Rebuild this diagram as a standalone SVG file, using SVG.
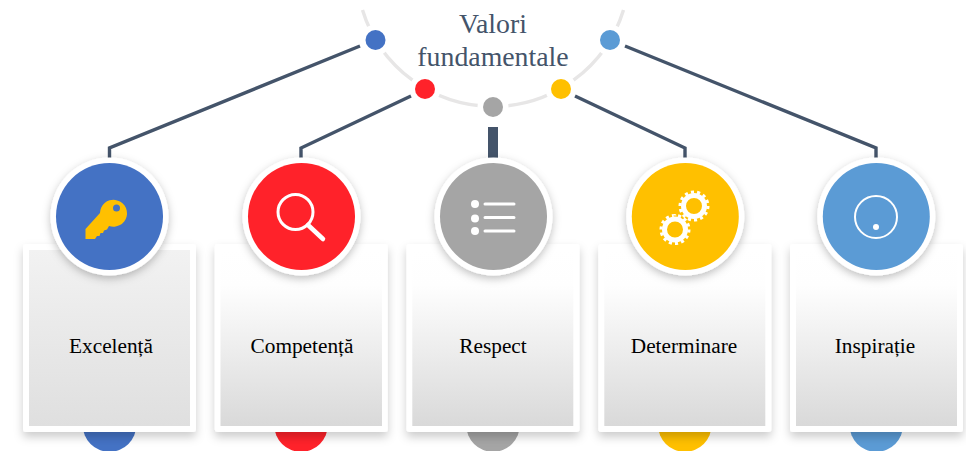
<svg xmlns="http://www.w3.org/2000/svg" width="966" height="451" viewBox="0 0 966 451">
<style>
.label{font-family:"Liberation Serif","Times New Roman",serif;font-size:21.3px;fill:#000;text-anchor:middle}
.title{font-family:"Liberation Serif","Times New Roman",serif;font-size:27.8px;fill:#44546a;text-anchor:middle}
.conn{fill:none;stroke:#44546a;stroke-width:3.4}
.arc{fill:none;stroke:#e7e6e6;stroke-width:3.4}
.halo{fill:#fff}
.card{fill:#fff;filter:url(#cs)}
.ring{fill:#fff;filter:url(#rs)}
.ico{fill:none;stroke:#fff}
.w{fill:#fff}
</style>
<defs>
<filter id="cs" x="-20%" y="-10%" width="140%" height="125%"><feDropShadow dx="0" dy="5" stdDeviation="5" flood-color="#000" flood-opacity="0.2"/></filter>
<filter id="rs" x="-20%" y="-20%" width="140%" height="145%"><feDropShadow dx="0" dy="3" stdDeviation="4" flood-color="#000" flood-opacity="0.25"/></filter>
<linearGradient id="g1" x1="0" y1="0" x2="0" y2="1"><stop offset="0" stop-color="#f2f2f2"/><stop offset="1" stop-color="#dfdfdf"/></linearGradient>
<linearGradient id="g2" x1="0" y1="0" x2="0" y2="1"><stop offset="0" stop-color="#ffffff"/><stop offset="0.2" stop-color="#fefefe"/><stop offset="1" stop-color="#d9d9d9"/></linearGradient>
</defs>
<rect width="966" height="451" fill="#fff"/>
<g id="connectors">
<path class="arc" d="M362.500 10 A136.500 136.500 0 0 0 623.500 10"/>
<circle class="halo" cx="375.500" cy="40" r="15.500"/>
<circle class="halo" cx="425" cy="89" r="15.500"/>
<circle class="halo" cx="493" cy="107" r="15.500"/>
<circle class="halo" cx="561" cy="89" r="15.500"/>
<circle class="halo" cx="610" cy="40" r="15.500"/>
<polyline class="conn" points="360,46 109.500,148 109.500,158"/>
<polyline class="conn" points="411,96 301,148 301,158"/>
<rect x="488" y="127" width="10" height="32" fill="#44546a"/>
<polyline class="conn" points="575,96 685,148 685,158"/>
<polyline class="conn" points="625,46 876,148 876,158"/>
</g>
<g id="title">
<circle cx="375.500" cy="40" r="10" fill="#4472c4"/>
<circle cx="425" cy="89" r="10" fill="#ff222a"/>
<circle cx="493" cy="107" r="10" fill="#a5a5a5"/>
<circle cx="561" cy="89" r="10" fill="#ffc000"/>
<circle cx="610" cy="40" r="10" fill="#5b9bd5"/>
<text class="title" x="493" y="33">Valori</text>
<text class="title" x="493" y="66">fundamentale</text>
</g>
<g id="node-excelenta">
<circle cx="109.500" cy="425" r="26.800" fill="#4472c4"/>
<rect class="card" x="23" y="244" width="173" height="188" rx="3"/>
<rect x="29" y="250" width="161" height="176" fill="url(#g1)"/>
<text class="label" x="111" y="353">Excelență</text>
<circle class="ring" cx="109.500" cy="216.500" r="59"/>
<circle cx="109.500" cy="216.500" r="53.500" fill="#4472c4"/>
<path fill="#ffc000" d="M100,213 L85.500,229 V239 H95 L97,236 H99.500 L100.500,233 H103 L104,230.500 L107,229.500 L109,226 A13.500 13.500 0 1 0 100,213 Z"/>
<circle cx="116.500" cy="208" r="3.500" fill="#4472c4"/>
</g>
<g id="node-competenta">
<circle cx="301" cy="425" r="26.800" fill="#ff222a"/>
<rect class="card" x="214.800" y="244" width="173" height="188" rx="3"/>
<rect x="220.500" y="250" width="161.500" height="176" fill="url(#g2)"/>
<text class="label" x="302" y="353">Competență</text>
<circle class="ring" cx="301.500" cy="216.500" r="59"/>
<circle cx="301.500" cy="216.500" r="53.500" fill="#ff222a"/>
<circle class="ico" cx="295.500" cy="212" r="17.500" stroke-width="3"/>
<path class="ico" d="M308,225 L323,239" stroke-width="4.500" stroke-linecap="round"/>
</g>
<g id="node-respect">
<circle cx="493" cy="425" r="26.800" fill="#a5a5a5"/>
<rect class="card" x="406.500" y="244" width="173" height="188" rx="3"/>
<rect x="412.300" y="250" width="161" height="176" fill="url(#g2)"/>
<text class="label" x="493" y="353">Respect</text>
<circle class="ring" cx="493.500" cy="216.500" r="59"/>
<circle cx="493.500" cy="216.500" r="53.500" fill="#a5a5a5"/>
<circle class="w" cx="475" cy="204" r="4"/><circle class="w" cx="475" cy="218.500" r="4"/><circle class="w" cx="475" cy="231" r="4"/>
<path class="ico" d="M485,204 H514 M485,217.500 H514 M485,231 H514" stroke-width="3" stroke-linecap="round"/>
</g>
<g id="node-determinare">
<circle cx="684.800" cy="425" r="26.800" fill="#ffc000"/>
<rect class="card" x="598.300" y="244" width="173" height="188" rx="3"/>
<rect x="604.300" y="250" width="161" height="176" fill="url(#g2)"/>
<text class="label" x="684" y="353">Determinare</text>
<circle class="ring" cx="685.300" cy="216.500" r="59"/>
<circle cx="685.300" cy="216.500" r="53.500" fill="#ffc000"/>
<circle class="ico" cx="694" cy="206" r="10.500" stroke-width="5"/>
<circle class="ico" cx="694" cy="206" r="14" stroke-width="3" pathLength="28" stroke-dasharray="1 1"/>
<circle class="ico" cx="675" cy="229.500" r="10.500" stroke-width="5"/>
<circle class="ico" cx="675" cy="229.500" r="14" stroke-width="3" pathLength="28" stroke-dasharray="1 1"/>
</g>
<g id="node-inspiratie">
<circle cx="876.300" cy="425" r="26.800" fill="#5b9bd5"/>
<rect class="card" x="790" y="244" width="173" height="188" rx="3"/>
<rect x="796" y="250" width="161" height="176" fill="url(#g2)"/>
<text class="label" x="875" y="353">Inspirație</text>
<circle class="ring" cx="876.300" cy="216.500" r="59"/>
<circle cx="876.300" cy="216.500" r="53.500" fill="#5b9bd5"/>
<circle class="ico" cx="876" cy="217" r="21" stroke-width="2"/>
<circle class="w" cx="876" cy="227" r="3"/>
</g>
</svg>
